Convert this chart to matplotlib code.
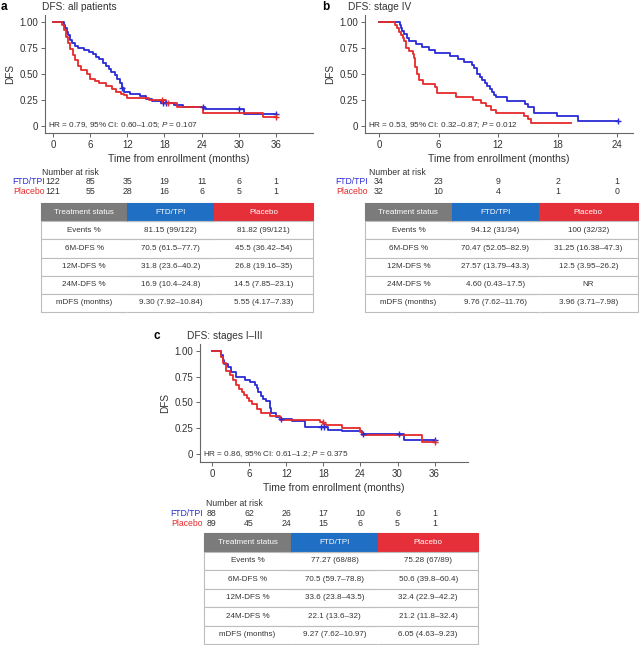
import matplotlib

matplotlib.use("Agg")
import matplotlib.pyplot as plt
import matplotlib.transforms as mtransforms
import numpy as np

plt.rcParams["font.family"] = ["Liberation Sans", "DejaVu Sans"]
plt.rcParams["mathtext.fontset"] = "custom"
plt.rcParams["mathtext.rm"] = "Liberation Sans"
plt.rcParams["mathtext.it"] = "Liberation Sans:italic"

BLUE, RED = "#2a2ad6", "#e52b2b"
HDR_GRAY, HDR_BLUE, HDR_RED = "#7b7b7b", "#1f6fc5", "#e5303a"
TXT = "#333333"

# ---- panel a: all patients ----
a_ftd_t = [0, 1.7, 1.9, 2.2, 2.5, 2.8, 3.1, 3.5, 4.0, 5.0, 5.8, 6.5, 7.0, 7.5, 8.0, 8.5, 9.0, 9.4,
           10.0, 10.4, 10.8, 11.1, 11.5, 12.5, 14.0, 15.0, 16.0, 17.5, 19.5, 21.0, 24.5, 30.8]
a_ftd_s = [1.0, 0.97, 0.94, 0.90, 0.87, 0.83, 0.80, 0.77, 0.75, 0.73, 0.71, 0.69, 0.66, 0.64, 0.61, 0.58,
           0.55, 0.52, 0.49, 0.45, 0.41, 0.37, 0.33, 0.31, 0.29, 0.26, 0.24, 0.22, 0.20, 0.18, 0.16, 0.12]
a_pla_t = [0, 1.5, 1.8, 2.1, 2.4, 2.8, 3.2, 3.6, 4.0, 4.6, 5.5, 6.0, 6.8, 7.5, 8.5, 9.5, 10.2, 11.0,
           11.5, 12.0, 15.5, 18.3, 20.0, 24.3, 34.0]
a_pla_s = [1.0, 0.97, 0.92, 0.86, 0.80, 0.74, 0.68, 0.63, 0.58, 0.54, 0.50, 0.455, 0.43, 0.41, 0.38,
           0.36, 0.33, 0.31, 0.30, 0.27, 0.25, 0.22, 0.18, 0.13, 0.09]
a_end = [36.0, 36.0]
a_ftd_cens = [11.2, 17.8, 18.2, 24.2, 30.0, 36.0]
a_pla_cens = [17.6, 18.6, 36.0]
a_ticks = [0, 6, 12, 18, 24, 30, 36]
a_risk_ftd = [122, 85, 35, 19, 11, 6, 1]
a_risk_pla = [121, 55, 28, 16, 6, 5, 1]
a_hr = r"HR = 0.79, 95% CI: 0.60–1.05; $\it{P}$ = 0.107"
a_tab_ftd = ["81.15 (99/122)", "70.5 (61.5–77.7)", "31.8 (23.6–40.2)", "16.9 (10.4–24.8)", "9.30 (7.92–10.84)"]
a_tab_pla = ["81.82 (99/121)", "45.5 (36.42–54)", "26.8 (19.16–35)", "14.5 (7.85–23.1)", "5.55 (4.17–7.33)"]

# ---- panel b: stage IV ----
b_ftd_t = [0, 2.1, 2.2, 2.3, 2.5, 2.8, 3.0, 3.7, 4.3, 5.0, 5.6, 7.2, 8.0, 8.6, 9.4, 9.6, 9.9, 10.2,
           10.4, 10.7, 10.9, 11.2, 11.4, 11.6, 11.8, 12.9, 14.7, 15.0, 15.6, 17.9, 20.1]
b_ftd_s = [1.0, 0.97, 0.94, 0.91, 0.88, 0.85, 0.82, 0.79, 0.76, 0.735, 0.706, 0.676, 0.647, 0.618,
           0.588, 0.559, 0.5, 0.47, 0.441, 0.412, 0.382, 0.353, 0.324, 0.294, 0.276, 0.245, 0.215,
           0.184, 0.123, 0.092, 0.046]
b_pla_t = [0, 1.6, 1.8, 2.0, 2.2, 2.4, 2.5, 2.7, 3.0, 3.4, 3.5, 3.6, 3.8, 4.0, 4.4, 5.6, 5.8, 7.8,
           9.5, 10.3, 10.8, 11.3, 11.8, 14.6, 15.0, 15.3]
b_pla_s = [1.0, 0.969, 0.938, 0.906, 0.875, 0.844, 0.813, 0.75, 0.719, 0.688, 0.656, 0.563, 0.5,
           0.438, 0.406, 0.375, 0.313, 0.281, 0.25, 0.219, 0.188, 0.156, 0.125, 0.094, 0.063, 0.031]
b_end = [24.1, 19.4]
b_ftd_cens = [24.1]
b_pla_cens = []
b_ticks = [0, 6, 12, 18, 24]
b_risk_ftd = [34, 23, 9, 2, 1]
b_risk_pla = [32, 10, 4, 1, 0]
b_hr = r"HR = 0.53, 95% CI: 0.32–0.87; $\it{P}$ = 0.012"
b_tab_ftd = ["94.12 (31/34)", "70.47 (52.05–82.9)", "27.57 (13.79–43.3)", "4.60 (0.43–17.5)", "9.76 (7.62–11.76)"]
b_tab_pla = ["100 (32/32)", "31.25 (16.38–47.3)", "12.5 (3.95–26.2)", "NR", "3.96 (3.71–7.98)"]

# ---- panel c: stages I-III ----
c_ftd_t = [0, 1.5, 1.8, 2.0, 2.6, 3.1, 3.9, 5.3, 6.1, 6.9, 7.2, 7.5, 8.0, 8.3, 8.8, 9.4, 9.6, 10.4,
           11.0, 12.9, 15.0, 18.8, 21.0, 24.2, 31.0]
c_ftd_s = [1.0, 0.96, 0.91, 0.87, 0.84, 0.80, 0.75, 0.72, 0.70, 0.67, 0.64, 0.60, 0.56, 0.53, 0.51,
           0.45, 0.40, 0.36, 0.335, 0.32, 0.265, 0.235, 0.22, 0.19, 0.14]
c_pla_t = [0, 1.5, 1.7, 2.3, 2.9, 3.4, 3.9, 4.4, 4.8, 5.2, 5.6, 6.0, 6.4, 7.2, 8.0, 9.4, 11.0, 17.5,
           18.0, 18.5, 21.0, 24.0, 24.2, 34.0]
c_pla_s = [1.0, 0.94, 0.88, 0.81, 0.77, 0.72, 0.67, 0.63, 0.60, 0.57, 0.54, 0.51, 0.49, 0.44, 0.40,
           0.37, 0.33, 0.31, 0.29, 0.28, 0.25, 0.21, 0.185, 0.12]
c_end = [36.0, 36.0]
c_ftd_cens = [11.2, 17.7, 18.1, 24.5, 30.2, 36.0]
c_pla_cens = [17.9, 36.0]
c_ticks = [0, 6, 12, 18, 24, 30, 36]
c_risk_ftd = [88, 62, 26, 17, 10, 6, 1]
c_risk_pla = [89, 45, 24, 15, 6, 5, 1]
c_hr = r"HR = 0.86, 95% CI: 0.61–1.2; $\it{P}$ = 0.375"
c_tab_ftd = ["77.27 (68/88)", "70.5 (59.7–78.8)", "33.6 (23.8–43.5)", "22.1 (13.6–32)", "9.27 (7.62–10.97)"]
c_tab_pla = ["75.28 (67/89)", "50.6 (39.8–60.4)", "32.4 (22.9–42.2)", "21.2 (11.8–32.4)", "6.05 (4.63–9.23)"]

row_labels = ["Events %", "6M-DFS %", "12M-DFS %", "24M-DFS %", "mDFS (months)"]
header = ["Treatment status", "FTD/TPI", "Placebo"]
y_ticks = [0, 0.25, 0.5, 0.75, 1.0]
y_ticklabels = ["0", "0.25", "0.50", "0.75", "1.00"]

W, H = 639, 645
fig = plt.figure(figsize=(W / 100, H / 100), dpi=100)


def fx(px):
    return px / W


def fy(py):
    return 1 - py / H


def add_ax(left, top, right, bottom):
    return fig.add_axes([fx(left), fy(bottom), (right - left) / W, (bottom - top) / H])


def step_at(t, s, x):
    return s[np.searchsorted(t, x, side="right") - 1]


def km_panel(box, xlim, ylim, ticks, curves, hr):
    ax = add_ax(*box)
    for t, s, end, cens, color in curves:
        tt = np.append(t, end)
        ss = np.append(s, s[-1])
        ax.step(tt, ss, where="post", color=color, lw=1.3, zorder=3)
        if cens:
            cy = [step_at(t, s, c) for c in cens]
            ax.plot(cens, cy, ls="none", marker="+", ms=4.5, mew=1.0, color=color, zorder=4)
    ax.set_xlim(*xlim)
    ax.set_ylim(*ylim)
    ax.set_xticks(ticks)
    ax.set_yticks(y_ticks)
    ax.set_yticklabels(y_ticklabels)
    for sp in ["top", "right"]:
        ax.spines[sp].set_visible(False)
    for sp in ["left", "bottom"]:
        ax.spines[sp].set_color("#666666")
        ax.spines[sp].set_linewidth(0.8)
    ax.tick_params(labelsize=7, colors="#666666", labelcolor=TXT, length=3, width=0.7, pad=2)
    ax.set_ylabel("DFS", fontsize=7.2, color=TXT, labelpad=3)
    ax.set_xlabel("Time from enrollment (months)", fontsize=7.5, color=TXT, labelpad=3)
    ax.text(0.012, 0.065, hr, transform=ax.transAxes, fontsize=5.9, color=TXT, va="center")
    return ax


def risk_rows(ax, ticks, ftd, pla, lab_x, title_x, y0):
    tr = mtransforms.blended_transform_factory(ax.transData, fig.transFigure)
    fig.text(fx(title_x), fy(y0), "Number at risk", fontsize=6.2, color=TXT, va="center")
    for vals, name, color, dy in [(ftd, "FTD/TPI", BLUE, 9.5), (pla, "Placebo", RED, 19)]:
        fig.text(fx(lab_x), fy(y0 + dy), name, fontsize=6.2, color=color, va="center", ha="right")
        for x, v in zip(ticks, vals):
            ax.text(x, fy(y0 + dy), str(v), transform=tr, fontsize=6.3, color=TXT,
                    va="center", ha="center")


def summary_table(box, ftd, pla):
    tax = add_ax(*box)
    tax.axis("off")
    cells = [[r, f, p] for r, f, p in zip(row_labels, ftd, pla)]
    tbl = tax.table(cellText=cells, colLabels=header, cellLoc="center",
                    colWidths=[0.318, 0.318, 0.364], bbox=[0, 0, 1, 1])
    tbl.auto_set_font_size(False)
    tbl.set_fontsize(5.8)
    for (r, c), cell in tbl.get_celld().items():
        cell.set_linewidth(0.8)
        if r == 0:
            col = [HDR_GRAY, HDR_BLUE, HDR_RED][c]
            cell.set_facecolor(col)
            cell.set_edgecolor(col)
            cell.get_text().set_color("white")
        else:
            cell.set_edgecolor("#bdbdbd")
            cell.get_text().set_color(TXT)
            cell.visible_edges = ["BTL", "BT", "BTR"][c]


# panel a
ax_a = km_panel((45, 15, 313, 133), (-1.29, 42.0), (-0.067, 1.067), a_ticks,
                [(a_ftd_t, a_ftd_s, a_end[0], a_ftd_cens, BLUE),
                 (a_pla_t, a_pla_s, a_end[1], a_pla_cens, RED)], a_hr)
fig.text(fx(1), fy(7), "a", fontsize=8.5, fontweight="bold", va="center")
fig.text(fx(42), fy(7), "DFS: all patients", fontsize=7.3, color=TXT, va="center")
risk_rows(ax_a, a_ticks, a_risk_ftd, a_risk_pla, 45, 42, 172.5)
summary_table((41, 203, 313, 312), a_tab_ftd, a_tab_pla)

# panel b
ax_b = km_panel((365, 15, 633, 133), (-1.41, 25.6), (-0.067, 1.067), b_ticks,
                [(b_ftd_t, b_ftd_s, b_end[0], b_ftd_cens, BLUE),
                 (b_pla_t, b_pla_s, b_end[1], b_pla_cens, RED)], b_hr)
fig.text(fx(322), fy(7), "b", fontsize=8.5, fontweight="bold", va="center")
fig.text(fx(348), fy(7), "DFS: stage IV", fontsize=7.3, color=TXT, va="center")
risk_rows(ax_b, b_ticks, b_risk_ftd, b_risk_pla, 368, 369, 172.5)
summary_table((365, 203, 638, 312), b_tab_ftd, b_tab_pla)

# panel c
ax_c = km_panel((200, 344, 468, 462), (-1.94, 41.4), (-0.078, 1.068), c_ticks,
                [(c_ftd_t, c_ftd_s, c_end[0], c_ftd_cens, BLUE),
                 (c_pla_t, c_pla_s, c_end[1], c_pla_cens, RED)], c_hr)
fig.text(fx(154), fy(336), "c", fontsize=8.5, fontweight="bold", va="center")
fig.text(fx(187), fy(336), "DFS: stages I–III", fontsize=7.3, color=TXT, va="center")
risk_rows(ax_c, c_ticks, c_risk_ftd, c_risk_pla, 203, 206, 504)
summary_table((204, 533, 478, 644), c_tab_ftd, c_tab_pla)

fig.savefig("out.png", dpi=100)
